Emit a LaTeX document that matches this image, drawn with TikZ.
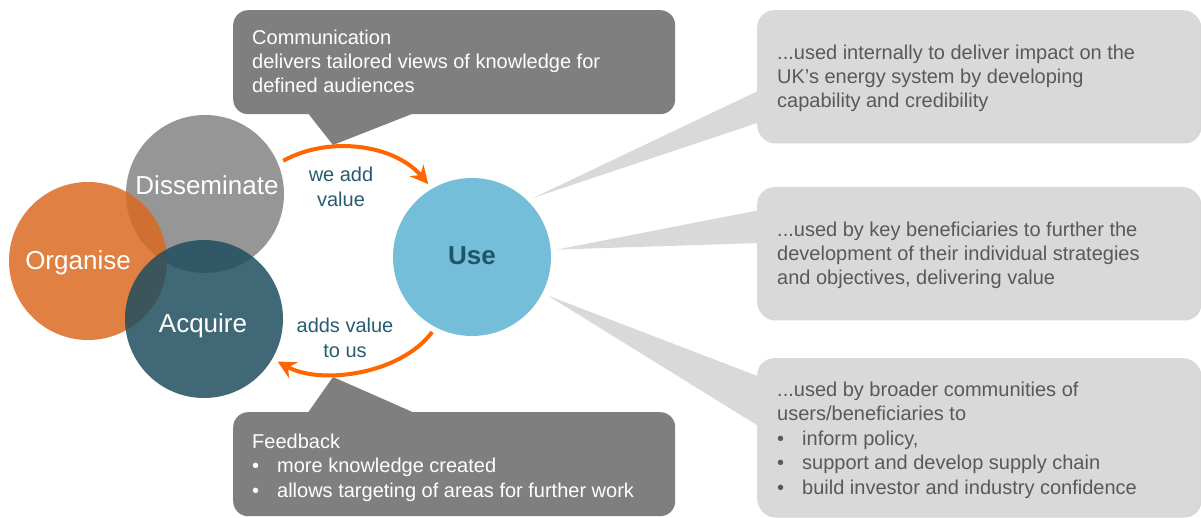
\documentclass[tikz,border=0pt]{standalone}
\usepackage{fontspec}
\setmainfont{Liberation Sans}
\usepackage{xcolor}
\usetikzlibrary{arrows.meta, positioning}

\definecolor{orgorange}{RGB}{218,106,33}
\definecolor{disgray}{RGB}{150,150,150}
\definecolor{acqteal}{RGB}{31,78,94}
\definecolor{useblue}{RGB}{116,190,218}
\definecolor{usetext}{RGB}{31,85,105}
\definecolor{flowor}{RGB}{255,102,0}
\definecolor{flowtxt}{RGB}{38,92,112}
\definecolor{boxdark}{RGB}{127,127,127}
\definecolor{boxlight}{RGB}{217,217,217}
\definecolor{boxtxtgray}{RGB}{89,89,89}

\newcommand{\bul}{\makebox[25pt][l]{\textbullet}}

\begin{document}
\begin{tikzpicture}[x=1pt, y=-1pt,
    circ/.style={circle, minimum size=158pt, inner sep=0pt, outer sep=6pt},
    circlbl/.style={anchor=base, inner sep=0pt, text=white, font=\fontsize{26}{30}\selectfont},
    flow/.style={draw=flowor, line width=4pt, -{Stealth[length=18pt, width=18pt, inset=6pt]}},
    flowlbl/.style={anchor=base, align=center, inner sep=0pt, text=flowtxt, font=\fontsize{20}{25}\selectfont},
    darkbox/.style={fill=boxdark, rounded corners=15pt, inner sep=0pt, anchor=north west},
    lightbox/.style={fill=boxlight, rounded corners=17pt, inner sep=0pt, anchor=north west,
        minimum width=443pt},
    boxtxt/.style={anchor=base west, align=left, inner sep=0pt, font=\fontsize{20}{24.4}\selectfont}]
    \useasboundingbox (0,0) rectangle (1201,518);

    % callouts above and below the loop (text nodes sit on their last baseline)
    \node[darkbox, minimum width=442pt, minimum height=104pt] (comm) at (233,10) {};
    \fill[boxdark] (307,112) -- (333,145) -- (417,112) -- cycle;
    \node[darkbox, minimum width=442pt, minimum height=104pt] (feed) at (233,412) {};
    \fill[boxdark] (307,414) -- (333,377) -- (417,414) -- cycle;
    \node[boxtxt, text=white] (commtxt) at (252,93)
        {Communication\\delivers tailored views of knowledge for\\defined audiences};
    \node[boxtxt, text=white] (feedtxt) at (252,497)
        {Feedback\\\bul more knowledge created\\\bul allows targeting of areas for further work};

    % the four circles
    \node[circ, fill=disgray] (dis) at (205,194) {};
    \node[circ, fill=orgorange, fill opacity=0.85] (org) at (88,261) {};
    \node[circ, fill=acqteal, fill opacity=0.85] (acq) at (204,319) {};
    \node[circ, fill=useblue] (use) at (472,257) {};
    \node[circlbl] at (207,195) {Disseminate};
    \node[circlbl] at (78,270) {Organise};
    \node[circlbl] at (203,333) {Acquire};
    \node[circlbl, text=usetext, font=\fontsize{26}{30}\selectfont\bfseries] at (472,265) {Use};

    % value loop
    \draw[flow] (dis.23) .. controls (330,135) and (395,145) .. (use.121);
    \draw[flow] (use.242) .. controls (400,375) and (320,385) .. (acq.-30);
    \node[flowlbl] at (341,207) {we add\\value};
    \node[flowlbl] at (345,357) {adds value\\to us};

    % uses of knowledge
    \foreach \y/\h in {10/132, 187/132, 358/158}
        \fill[black!16, rounded corners=17pt] (758.5,\y+1.5) rectangle (1201.5,\y+\h+1.5);
    \fill[boxlight] (760,90) -- (use.44) -- (760,122) -- cycle;
    \fill[boxlight] (760,210) -- (use.5) -- (760,243) -- cycle;
    \fill[boxlight] (760,377) -- (use.-27) -- (760,427) -- cycle;
    \node[lightbox, minimum height=132pt] (used1) at (757,10) {};
    \node[lightbox, minimum height=132pt] (used2) at (757,187) {};
    \node[lightbox, minimum height=158pt] (used3) at (757,358) {};
    \node[boxtxt, text=boxtxtgray] at (777,108)
        {...used internally to deliver impact on the\\UK’s energy system by developing\\capability and credibility};
    \node[boxtxt, text=boxtxtgray] at (777,285)
        {...used by key beneficiaries to further the\\development of their individual strategies\\and objectives, delivering value};
    \node[boxtxt, text=boxtxtgray] at (777,494)
        {...used by broader communities of\\users/beneficiaries to\\\bul inform policy,\\\bul support and develop supply chain\\\bul build investor and industry confidence};
\end{tikzpicture}
\end{document}
